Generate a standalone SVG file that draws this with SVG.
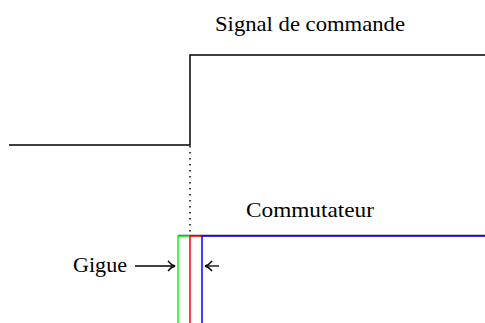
<svg xmlns="http://www.w3.org/2000/svg" width="485" height="323" viewBox="0 0 485 323">
<defs>
<style>
text{font-family:'Liberation Serif','Times New Roman',serif;font-size:21px;fill:#000}
.k{fill:none;stroke:#000;stroke-width:1.5}
</style>
<marker id="ah" viewBox="0 0 10 12" refX="9" refY="6" markerWidth="10" markerHeight="12" markerUnits="userSpaceOnUse" orient="auto">
<path d="M2,1 Q5,5 9,6 Q5,7 2,11" fill="none" stroke="#000" stroke-width="1.3"/>
</marker>
</defs>
<rect width="485" height="323" fill="#fff"/>
<g id="signal">
<path class="k" d="M9,145 H190 V55 H485"/>
<text x="215" y="31" textLength="190" lengthAdjust="spacingAndGlyphs">Signal de commande</text>
</g>
<g id="commutateur">
<line x1="178" y1="235.5" x2="485" y2="235.5" stroke="#333" stroke-width="1.5"/>
<path d="M178,323 V236 H190" fill="none" stroke="#00ff00" stroke-width="1.5"/>
<path d="M190,323 V236 H202" fill="none" stroke="#ff0000" stroke-width="1.5"/>
<path d="M202,323 V236 H485" fill="none" stroke="#0000ff" stroke-width="1.5"/>
<text x="246" y="217" textLength="128" lengthAdjust="spacingAndGlyphs">Commutateur</text>
</g>
<g id="gigue">
<text x="73" y="272" textLength="54" lengthAdjust="spacingAndGlyphs">Gigue</text>
</g>
<g id="connectors">
<line x1="190" y1="146" x2="190" y2="235" stroke="#000" stroke-width="1.5" stroke-dasharray="1.5,4.5"/>
<line x1="135" y1="266" x2="175" y2="266" stroke="#000" stroke-width="1.3" marker-end="url(#ah)"/>
<line x1="219" y1="266" x2="205" y2="266" stroke="#000" stroke-width="1.3" marker-end="url(#ah)"/>
</g>
</svg>
